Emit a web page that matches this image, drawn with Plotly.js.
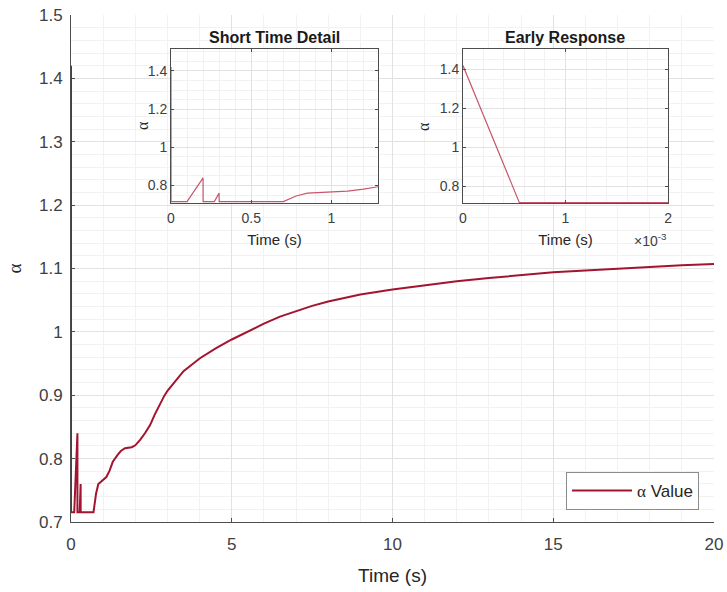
<!DOCTYPE html>
<html>
<head>
<meta charset="utf-8">
<script src="https://cdn.plot.ly/plotly-3.0.1.min.js"></script>
<style>
  html, body { margin: 0; padding: 0; background: #ffffff; }
  #chart { width: 727px; height: 592px; }
</style>
</head>
<body>
<div id="chart"></div>
<script>
// ---- data ----
var timeS = [0, 0.00055, 0.1, 0.2, 0.2001, 0.27, 0.3, 0.3001, 0.7, 0.78, 0.85, 0.97, 1.1, 1.2, 1.3,
             1.45, 1.55, 1.68, 1.89, 2.0, 2.15, 2.3, 2.46, 2.6, 2.77, 2.9, 3.0, 3.5, 4.0, 4.5, 5.0, 5.5,
             6.0, 6.5, 7.0, 7.5, 8.0, 8.5, 9.0, 10.0, 11.0, 12.0, 13.0, 14.0, 15.0, 16.0, 17.0, 18.0, 19.0, 20.0];
var alphaVal = [1.42, 0.7155, 0.7155, 0.84, 0.7155, 0.7155, 0.76, 0.7155, 0.7155, 0.745, 0.76, 0.766, 0.771, 0.781, 0.795,
                0.806, 0.812, 0.8164, 0.818, 0.821, 0.8295, 0.84, 0.853, 0.869, 0.8875, 0.899, 0.907, 0.938, 0.958, 0.974, 0.988, 1.001,
                1.013, 1.024, 1.033, 1.041, 1.048, 1.054, 1.059, 1.067, 1.074, 1.080, 1.085, 1.090, 1.094, 1.097, 1.100, 1.102, 1.105, 1.107];

var mainXTicks = [0, 5, 10, 15, 20];
var mainYTicks = [0.7, 0.8, 0.9, 1, 1.1, 1.2, 1.3, 1.4, 1.5];
var inset1XTicks = [0, 0.5, 1];
var insetYTicks = [0.8, 1, 1.2, 1.4];
var inset2XTicks = [0, 0.001, 0.002];
var inset2XTickText = ['0', '1', '2'];

var seriesName = '<span style="font-family:\'Liberation Serif\'">α</span> Value';
var insetTitle1 = 'Short Time Detail';
var insetTitle2 = 'Early Response';
var xLabel = 'Time (s)';
var yLabel = 'α';
var exponentLabel = '×10<sup>-3</sup>';

// ---- styles ----
var FONT = 'Liberation Sans, Arial, sans-serif';
var SERIF = 'Liberation Serif, DejaVu Serif, serif';
var axisCol = '#4d4d4d';
var tickCol = '#404040';
var gridCol = '#e2e2e2';
var minorCol = '#f2f2f2';
var mainLine = '#A2142F';
var insetLine = '#c8566c';

function axisBase(extra) {
  var a = {
    showline: true, linecolor: axisCol, linewidth: 1,
    ticks: 'inside', ticklen: 4, tickcolor: axisCol, tickwidth: 1,
    showgrid: true, gridcolor: gridCol, gridwidth: 1,
    zeroline: false,
    tickfont: {family: FONT, size: 17, color: tickCol},
    minor: {showgrid: true, gridcolor: minorCol, gridwidth: 1, ticks: ''}
  };
  for (var k in extra) a[k] = extra[k];
  return a;
}

var traces = [
  {x: timeS, y: alphaVal, type: 'scatter', mode: 'lines', name: seriesName,
   line: {color: mainLine, width: 2}, xaxis: 'x', yaxis: 'y', hoverinfo: 'skip'},
  {x: timeS, y: alphaVal, type: 'scatter', mode: 'lines', showlegend: false,
   line: {color: insetLine, width: 1.2}, xaxis: 'x2', yaxis: 'y2', hoverinfo: 'skip'},
  {x: timeS, y: alphaVal, type: 'scatter', mode: 'lines', showlegend: false,
   line: {color: insetLine, width: 1.2}, xaxis: 'x3', yaxis: 'y3', hoverinfo: 'skip'}
];

var inDomY = [0.629, 0.933];
var in1X = [0.1555, 0.4774];
var in2X = [0.6096, 0.9285];

function px2paperX(px) { return (px - 71) / 643; }
function px2paperY(py) { return (522 - py) / 507; }

var layout = {
  width: 727, height: 592,
  margin: {l: 71, r: 13, t: 15, b: 70},
  paper_bgcolor: '#ffffff', plot_bgcolor: '#ffffff',
  font: {family: FONT, color: tickCol},
  showlegend: true,
  legend: {
    x: 0.9767, xanchor: 'right', y: px2paperY(510), yanchor: 'bottom',
    bgcolor: '#ffffff', bordercolor: '#8c8c8c', borderwidth: 1,
    font: {family: FONT, size: 17, color: '#262626'},
    itemwidth: 60
  },
  xaxis: axisBase({
    domain: [0, 1], range: [0, 20], tickvals: mainXTicks, anchor: 'y',
    ticklabelstandoff: 7,
    minor: {showgrid: true, gridcolor: minorCol, dtick: 1, ticks: ''},
    title: {text: xLabel, font: {family: FONT, size: 19, color: '#262626'}, standoff: 15}
  }),
  yaxis: axisBase({
    domain: [0, 1], range: [0.7, 1.5], tickvals: mainYTicks, anchor: 'x',
    ticklabelstandoff: 4,
    minor: {showgrid: true, gridcolor: minorCol, dtick: 0.02, ticks: ''},
    title: {text: yLabel, font: {family: SERIF, size: 19, color: '#262626'}, standoff: 12}
  }),
  xaxis2: axisBase({
    domain: in1X, range: [0, 1.29], tickvals: inset1XTicks, anchor: 'y2', mirror: 'ticks',
    tickfont: {family: FONT, size: 14, color: tickCol}, ticklen: 3, ticklabelstandoff: 2,
    minor: {showgrid: true, gridcolor: minorCol, dtick: 0.1, ticks: ''},
    title: {text: xLabel, font: {family: FONT, size: 15, color: '#262626'}, standoff: 9}
  }),
  yaxis2: axisBase({
    domain: inDomY, range: [0.708, 1.515], tickvals: insetYTicks, anchor: 'x2', mirror: 'ticks',
    tickfont: {family: FONT, size: 14, color: tickCol}, ticklen: 3,
    minor: {showgrid: true, gridcolor: minorCol, dtick: 0.05, ticks: ''}
  }),
  xaxis3: axisBase({
    domain: in2X, range: [0, 0.002], tickvals: inset2XTicks, ticktext: inset2XTickText,
    anchor: 'y3', mirror: 'ticks',
    tickfont: {family: FONT, size: 14, color: tickCol}, ticklen: 3, ticklabelstandoff: 2,
    minor: {showgrid: true, gridcolor: minorCol, dtick: 0.0002, ticks: ''},
    title: {text: xLabel, font: {family: FONT, size: 15, color: '#262626'}, standoff: 9}
  }),
  yaxis3: axisBase({
    domain: inDomY, range: [0.713, 1.505], tickvals: insetYTicks, anchor: 'x3', mirror: 'ticks',
    tickfont: {family: FONT, size: 14, color: tickCol}, ticklen: 3,
    minor: {showgrid: true, gridcolor: minorCol, dtick: 0.05, ticks: ''}
  }),
  shapes: [
    {type: 'rect', xref: 'x2', yref: 'y2', x0: 0, x1: 1.29, y0: 0.708, y1: 1.515,
     fillcolor: '#ffffff', line: {width: 0}, layer: 'below'},
    {type: 'rect', xref: 'x3', yref: 'y3', x0: 0, x1: 0.002, y0: 0.713, y1: 1.505,
     fillcolor: '#ffffff', line: {width: 0}, layer: 'below'}
  ],
  annotations: [
    {text: '<b>' + insetTitle1 + '</b>', xref: 'paper', yref: 'paper',
     x: (in1X[0] + in1X[1]) / 2, y: px2paperY(37), xanchor: 'center', yanchor: 'middle', showarrow: false,
     font: {family: FONT, size: 16, color: '#1a1a1a'}},
    {text: '<b>' + insetTitle2 + '</b>', xref: 'paper', yref: 'paper',
     x: (in2X[0] + in2X[1]) / 2, y: px2paperY(37), xanchor: 'center', yanchor: 'middle', showarrow: false,
     font: {family: FONT, size: 16, color: '#1a1a1a'}},
    {text: yLabel, xref: 'paper', yref: 'paper', textangle: -90,
     x: px2paperX(142), y: px2paperY(126), xanchor: 'center', yanchor: 'middle', showarrow: false,
     font: {family: SERIF, size: 16, color: '#262626'}},
    {text: yLabel, xref: 'paper', yref: 'paper', textangle: -90,
     x: px2paperX(423), y: px2paperY(127), xanchor: 'center', yanchor: 'middle', showarrow: false,
     font: {family: SERIF, size: 16, color: '#262626'}},
    {text: exponentLabel, xref: 'paper', yref: 'paper',
     x: px2paperX(650), y: px2paperY(240), xanchor: 'center', yanchor: 'middle', showarrow: false,
     font: {family: FONT, size: 14, color: tickCol}}
  ]
};

Plotly.newPlot('chart', traces, layout, {staticPlot: true, displayModeBar: false});
</script>
</body>
</html>
